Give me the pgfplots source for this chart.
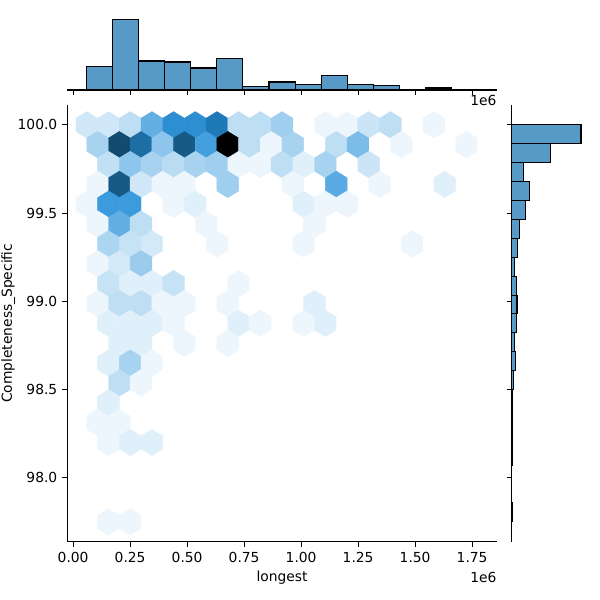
\documentclass[border=0pt]{standalone}
\usepackage{fontspec}
\setmainfont{DejaVu Sans}
\usepackage{pgfplots}
\pgfplotsset{compat=1.18}
\definecolor{histblue}{RGB}{87,153,199}
\pgfdeclareplotmark{hexa}{%
  \pgfpathmoveto{\pgfpoint{0bp}{9.527bp}}%
  \pgfpathlineto{\pgfpoint{7.806bp}{4.764bp}}%
  \pgfpathlineto{\pgfpoint{7.806bp}{-4.764bp}}%
  \pgfpathlineto{\pgfpoint{0bp}{-9.527bp}}%
  \pgfpathlineto{\pgfpoint{-7.806bp}{-4.764bp}}%
  \pgfpathlineto{\pgfpoint{-7.806bp}{4.764bp}}%
  \pgfpathclose
  \pgfusepathqfillstroke}
\pgfplotsset{
  colormap={sbblue}{rgb255=(255,255,255) rgb255=(215,235,248) rgb255=(176,215,241)
    rgb255=(136,194,235) rgb255=(97,174,228) rgb255=(57,154,221) rgb255=(34,131,198)
    rgb255=(27,105,158) rgb255=(20,79,119) rgb255=(14,52,79) rgb255=(7,26,40) rgb255=(0,0,0)},
  jstyle/.style={
    scale only axis, anchor=south west, clip=false,
    axis line style={line width=0.8bp, black},
    tick align=outside, major tick length=3.5bp,
    tick style={line width=0.8bp, black},
    /pgf/number format/assume math mode=true,
    scaled ticks=false,
    tick label style={font=\fontsize{10}{12}\selectfont},
  },
}
\pgfplotstableread{
x y c
0.0600 100.0000 0.11
0.1551 100.0000 0.11
0.2502 100.0000 0.15
0.3454 100.0000 0.36
0.4405 100.0000 0.50
0.5356 100.0000 0.50
0.6307 100.0000 0.58
0.7258 100.0000 0.15
0.8210 100.0000 0.15
0.9161 100.0000 0.22
1.1063 100.0000 0.04
1.2014 100.0000 0.04
1.2966 100.0000 0.12
1.3917 100.0000 0.15
1.5819 100.0000 0.04
0.1076 99.8875 0.20
0.2027 99.8875 0.745
0.2978 99.8875 0.62
0.3929 99.8875 0.26
0.4880 99.8875 0.69
0.5832 99.8875 0.43
0.6783 99.8875 1.00
0.7734 99.8875 0.15
0.8685 99.8875 0.04
0.9636 99.8875 0.20
1.1539 99.8875 0.15
1.2490 99.8875 0.30
1.4392 99.8875 0.04
1.7246 99.8875 0.04
0.1551 99.7751 0.14
0.2502 99.7751 0.26
0.3454 99.7751 0.20
0.4405 99.7751 0.16
0.5356 99.7751 0.20
0.6307 99.7751 0.22
0.7258 99.7751 0.04
0.8210 99.7751 0.04
0.9161 99.7751 0.15
1.0112 99.7751 0.07
1.1063 99.7751 0.20
1.2966 99.7751 0.12
0.1076 99.6626 0.04
0.2027 99.6626 0.69
0.2978 99.6626 0.11
0.3929 99.6626 0.04
0.4880 99.6626 0.04
0.6783 99.6626 0.22
0.9636 99.6626 0.04
1.1539 99.6626 0.38
1.3441 99.6626 0.04
1.6295 99.6626 0.07
0.0600 99.5502 0.04
0.1551 99.5502 0.45
0.2502 99.5502 0.45
0.4405 99.5502 0.04
0.5356 99.5502 0.07
1.0112 99.5502 0.07
1.1063 99.5502 0.04
1.2014 99.5502 0.04
0.1076 99.4377 0.04
0.2027 99.4377 0.36
0.2978 99.4377 0.15
0.5832 99.4377 0.04
1.0588 99.4377 0.04
0.1551 99.3252 0.19
0.2502 99.3252 0.13
0.3454 99.3252 0.10
0.6307 99.3252 0.04
1.0112 99.3252 0.04
1.4868 99.3252 0.04
0.1076 99.2128 0.04
0.2027 99.2128 0.10
0.2978 99.2128 0.23
0.1551 99.1003 0.13
0.2502 99.1003 0.07
0.3454 99.1003 0.07
0.4405 99.1003 0.13
0.7258 99.1003 0.04
0.1076 98.9879 0.04
0.2027 98.9879 0.15
0.2978 98.9879 0.15
0.3929 98.9879 0.04
0.4880 98.9879 0.04
0.6783 98.9879 0.04
1.0588 98.9879 0.07
0.1551 98.8754 0.07
0.2502 98.8754 0.07
0.3454 98.8754 0.07
0.4405 98.8754 0.04
0.7258 98.8754 0.07
0.8210 98.8754 0.04
1.0112 98.8754 0.04
1.1063 98.8754 0.07
0.2027 98.7629 0.07
0.2978 98.7629 0.07
0.4880 98.7629 0.04
0.6783 98.7629 0.04
0.1551 98.6505 0.07
0.2502 98.6505 0.20
0.3454 98.6505 0.04
0.2027 98.5380 0.15
0.2978 98.5380 0.04
0.1551 98.4256 0.07
0.1076 98.3131 0.04
0.2027 98.3131 0.04
0.1551 98.2006 0.04
0.2502 98.2006 0.07
0.3454 98.2006 0.07
0.1551 97.7508 0.04
0.2502 97.7508 0.04
}\hexdata
\begin{document}
\begin{tikzpicture}
\path[use as bounding box] (0,0) rectangle (432bp,432bp);
% main hexbin axis
\begin{axis}[jstyle,
  at={(48.46bp,41.98bp)}, width=309.17bp, height=314.42bp,
  xmin=-0.0256, xmax=1.8578, ymin=97.6386, ymax=100.1124,
  axis x line*=bottom, axis y line*=left,
  xtick={0,0.25,0.5,0.75,1,1.25,1.5,1.75},
  ytick={98,98.5,99,99.5,100},
  xticklabel style={/pgf/number format/fixed, /pgf/number format/precision=2, /pgf/number format/fixed zerofill, anchor=base, inner sep=0pt, yshift=-11.33bp},
  yticklabel style={/pgf/number format/fixed, /pgf/number format/precision=1, /pgf/number format/fixed zerofill, anchor=east, inner sep=0pt, xshift=-3.5bp},
  colormap name=sbblue, point meta min=0, point meta max=1,
  xlabel={longest}, ylabel={Completeness\_Specific},
  every axis x label/.style={at={(axis description cs:0.5,-0.0911)}, anchor=base, font=\fontsize{10}{12}\selectfont},
  every axis y label/.style={at={(axis description cs:-0.1288,0.5)}, rotate=90, anchor=base, font=\fontsize{10}{12}\selectfont},
]
\addplot[scatter, only marks, mark=hexa, mark options={line width=0.3bp},
  scatter/use mapped color={draw=mapped color, fill=mapped color},
  point meta=explicit] table[x=x, y=y, meta=c] {\hexdata};
\node[anchor=base east, inner sep=0pt, font=\fontsize{10}{12}\selectfont] at (axis description cs:1,-0.0927) {1e6};
\end{axis}
% top marginal histogram
\begin{axis}[jstyle,
  at={(48.46bp,367.2bp)}, width=309.17bp, height=54.22bp,
  xmin=-0.0256, xmax=1.8578, ymin=0, ymax=75.3,
  axis x line*=bottom, axis y line=none,
  xtick={0,0.25,0.5,0.75,1,1.25,1.5,1.75}, xticklabels={},
]
\addplot[ybar interval, fill=histblue, draw=black, line width=0.75bp] coordinates {
(0.0600,23.7) (0.1742,70.7) (0.2883,29.0) (0.4025,28.0) (0.5166,22.0)
(0.6308,31.7) (0.7449,3.7) (0.8591,8.0) (0.9732,5.7) (1.0874,14.7)
(1.2015,5.7) (1.3157,4.7) (1.4298,0) (1.5440,2.0) (1.6581,0) (1.7722,0)};
\node[anchor=base east, inner sep=0pt, font=\fontsize{10}{12}\selectfont] at (axis description cs:1,-0.2125) {1e6};
\end{axis}
% right marginal histogram
\begin{axis}[jstyle,
  at={(368.42bp,41.98bp)}, width=54.22bp, height=314.42bp,
  xmin=0, xmax=75.3, ymin=97.6386, ymax=100.1124,
  axis y line*=left, axis x line=none,
  ytick={98,98.5,99,99.5,100}, yticklabels={},
]
\addplot[xbar interval, fill=histblue, draw=black, line width=0.75bp] coordinates {
(1,97.7508) (0,97.8579) (0,97.9650) (1,98.0721) (1,98.1792) (1,98.2863)
(1,98.3933) (2,98.5004) (3.7,98.6075) (2.7,98.7146) (4.7,98.8217)
(5.3,98.9288) (4.7,99.0359) (2.7,99.1430) (5.7,99.2501) (7.7,99.3571)
(13.7,99.4642) (17.7,99.5713) (11.7,99.6784) (38.7,99.7855) (69.3,99.8926)
(69.3,100.0)};
\end{axis}
\end{tikzpicture}
\end{document}
